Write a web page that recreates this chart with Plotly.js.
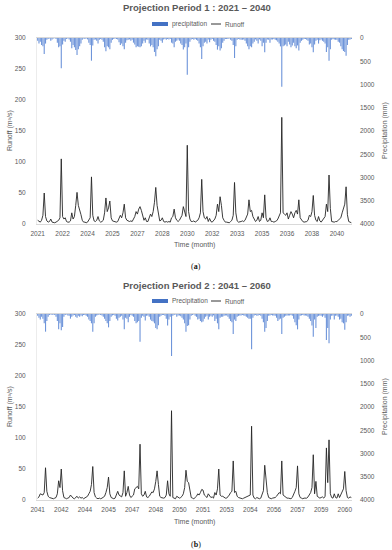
<!DOCTYPE html>
<html><head><meta charset="utf-8">
<script src="https://cdn.plot.ly/plotly-3.0.1.min.js"></script>
<style>html,body{margin:0;padding:0;background:#fff}#chart{width:392px;height:550px}</style>
</head><body><div id="chart"></div>
<script>
// ---------- Period 1 : 2021-2040 (monthly) ----------
const runoff1 = [
  6,4,3,6,14,50,12,5,3,4,8,3,
  2,2,3,4,6,10,105,12,8,10,4,3,
  3,5,18,8,12,30,51,30,20,15,6,3,
  3,2,3,6,10,76,14,5,4,6,12,5,
  3,4,6,18,42,20,26,37,10,5,4,3,
  3,4,8,14,10,18,32,10,6,5,4,5,
  4,8,12,20,16,24,28,22,12,6,10,4,
  4,10,16,12,20,35,59,30,18,5,6,10,
  4,3,4,3,4,3,10,12,24,10,6,4,
  6,10,14,28,20,12,127,20,8,4,4,5,
  3,4,6,10,18,72,20,10,8,12,4,9,
  4,3,6,8,14,32,20,44,30,10,6,3,
  3,3,2,4,6,14,67,18,5,3,3,4,
  5,4,6,10,16,39,20,22,12,8,4,6,
  12,4,6,18,10,47,10,4,5,10,4,4,
  3,4,5,8,12,18,172,18,16,14,18,8,
  14,20,16,10,18,22,16,39,10,6,4,3,
  3,4,6,14,12,20,46,14,6,4,12,5,
  3,6,8,12,32,20,79,25,4,3,3,4,
  4,6,8,10,18,26,32,60,15,4,3,2
];
const precip1 = [
  60,120,80,150,180,344,120,40,20,10,60,30,
  10,5,20,100,200,180,653,140,60,80,20,10,
  30,80,220,150,200,260,366,240,180,120,40,10,
  20,10,30,100,150,488,160,40,30,60,120,40,
  20,40,80,200,287,180,200,240,100,40,20,10,
  20,30,90,150,120,180,240,100,50,40,30,60,
  40,100,140,200,180,190,200,180,120,60,100,30,
  40,120,180,150,200,300,394,240,180,40,60,100,
  30,20,40,20,30,20,100,120,200,80,60,30,
  60,120,150,250,200,120,789,200,80,30,20,40,
  20,40,60,120,200,452,180,100,80,120,30,90,
  40,20,60,80,150,250,180,270,220,100,60,20,
  20,20,10,40,60,150,430,180,40,20,30,40,
  40,30,60,120,180,240,180,200,120,80,30,60,
  120,30,60,180,100,308,100,30,40,100,30,30,
  20,40,50,80,120,180,1047,180,160,140,180,80,
  140,200,160,100,180,220,160,270,100,60,40,20,
  20,40,60,140,120,200,308,140,60,40,120,50,
  30,60,80,120,300,200,488,240,40,20,30,40,
  40,80,100,180,240,280,300,380,150,40,30,20
];
const tickLabels1 = ['2021','2022','2024','2025','2027','2028','2030','2032','2033','2035','2036','2038','2040'];

// ---------- Period 2 : 2041-2060 (monthly) ----------
const runoff2 = [
  3,5,10,9,8,12,52,14,6,4,3,3,
  2,3,4,10,31,20,50,15,4,3,2,3,
  4,8,5,3,2,4,6,3,5,3,4,2,
  3,4,6,10,14,25,54,12,5,3,2,3,
  2,3,4,6,12,20,37,10,4,3,2,3,
  10,14,8,6,5,12,47,6,12,22,8,4,
  6,8,18,20,22,18,90,10,6,8,14,5,
  4,6,10,13,12,18,30,47,25,6,4,3,
  3,4,8,31,10,6,144,4,3,2,6,4,
  3,4,6,10,20,48,30,28,12,4,3,2,
  4,6,10,8,12,17,16,8,6,4,10,6,
  4,5,3,12,8,18,50,8,6,6,4,3,
  3,5,8,12,14,63,12,14,6,4,3,3,
  2,3,4,5,6,8,8,119,8,3,2,4,
  3,2,3,8,15,56,30,12,4,3,2,3,
  3,4,6,10,12,10,63,8,6,4,3,3,
  3,2,4,8,14,20,55,10,4,3,2,3,
  3,3,5,8,12,20,73,10,30,6,4,3,
  4,5,3,6,84,28,97,10,4,3,10,4,
  3,10,4,8,14,18,46,15,4,3,5,4
];
const precip2 = [
  40,80,120,60,100,200,380,150,60,20,10,20,
  10,20,60,150,330,200,350,280,60,20,10,30,
  40,100,60,30,20,60,80,40,60,30,50,20,
  20,40,60,120,150,200,380,200,60,30,20,10,
  20,30,60,100,150,200,287,150,60,30,20,40,
  100,140,80,60,40,120,330,80,100,180,60,20,
  40,60,150,200,180,150,595,80,40,60,140,40,
  30,60,120,150,160,200,300,330,240,60,40,20,
  20,40,100,250,120,60,903,40,20,10,60,30,
  30,50,80,120,200,380,260,240,120,40,20,10,
  40,60,120,100,150,180,160,100,60,40,120,60,
  40,60,30,150,100,200,330,80,60,60,40,30,
  30,60,100,150,180,430,120,150,60,40,30,30,
  20,30,40,60,80,100,100,760,80,30,20,40,
  30,20,40,100,180,380,300,150,40,30,20,30,
  30,40,80,150,120,100,430,80,60,40,30,30,
  30,20,40,100,180,240,330,120,40,30,20,30,
  30,40,60,100,150,250,487,120,300,60,40,30,
  40,60,30,80,560,300,631,120,40,30,120,40,
  30,60,120,100,180,200,340,180,40,30,60,40
];
const tickLabels2 = ['2041','2042','2044','2045','2047','2048','2050','2051','2053','2054','2056','2057','2059','2060'];

// month category names
function monthNames(startYear){
  const out=[];
  for(let y=0;y<20;y++) for(let m=1;m<=12;m++) out.push((startYear+y)+'-'+String(m).padStart(2,'0'));
  return out;
}
const months1 = monthNames(2021);
const months2 = monthNames(2041);
const tickVals1 = tickLabels1.map((_,k)=>months1[k*19]);
const tickVals2 = tickLabels2.map((_,k)=>months2[k*18]);

const W=392,H=550;
const px=x=>x/W, py=y=>1-y/H;
const GRAY='#595959', LINE='#d9d9d9', BLUE='#4472C4', BARC='#6f95da';
const tickFont={family:'Liberation Sans, Arial, sans-serif',size:6.5,color:GRAY};

const plotL=37, plotR=352;
const top1=38, bot1=224, top2=314, bot2=500;

const data=[
  {type:'bar',x:months1,y:precip1,xaxis:'x',yaxis:'y',marker:{color:BARC,line:{width:0}},name:'precipitation',showlegend:false},
  {type:'scatter',mode:'lines',x:months1,y:runoff1,xaxis:'x',yaxis:'y2',line:{color:'#262626',width:0.9},name:'Runoff',showlegend:false},
  {type:'bar',x:months2,y:precip2,xaxis:'x2',yaxis:'y3',marker:{color:BARC,line:{width:0}},name:'Precipitation',showlegend:false},
  {type:'scatter',mode:'lines',x:months2,y:runoff2,xaxis:'x2',yaxis:'y4',line:{color:'#262626',width:0.9},name:'Runoff',showlegend:false}
];

function xax(anchor,vals,labels){
  return {domain:[px(plotL),px(plotR)],anchor:anchor,type:'category',range:[-0.5,239.5],
    tickmode:'array',tickvals:vals,ticktext:labels,tickangle:0,ticks:'',showgrid:false,zeroline:false,
    showline:true,linecolor:LINE,linewidth:1,mirror:true,tickfont:tickFont,ticklabelstandoff:3,fixedrange:true};
}
function yPrecip(top,bot,anchor){
  return {domain:[py(bot),py(top)],anchor:anchor,side:'right',range:[4000,0],tickmode:'linear',tick0:0,dtick:500,
    showgrid:false,zeroline:false,showline:false,ticks:'',tickfont:tickFont,ticklabelstandoff:7,fixedrange:true};
}
function yRunoff(overlay,anchor){
  return {overlaying:overlay,anchor:anchor,side:'left',range:[0,300],tickmode:'linear',tick0:0,dtick:50,
    showgrid:false,zeroline:false,showline:true,linecolor:'#ececec',ticks:'',tickfont:tickFont,ticklabelstandoff:9,fixedrange:true};
}

const annFont={family:'Liberation Sans, Arial, sans-serif',size:7,color:GRAY};
const legFont={family:'Liberation Sans, Arial, sans-serif',size:6.5,color:GRAY};
function ann(text,x,y,opts){
  return Object.assign({text:text,x:px(x),y:py(y),xref:'paper',yref:'paper',showarrow:false,xanchor:'center',yanchor:'middle',font:annFont},opts||{});
}
const titleFont={family:'Liberation Sans, Arial, sans-serif',size:9.5,color:GRAY};
const capFont={family:'Liberation Serif, serif',size:8,color:'#111'};
const annotations=[
  ann('<b>Projection Period 1 : 2021 – 2040</b>',197,8,{font:titleFont}),
  ann('precipitation',170,24,{xanchor:'left',font:legFont}),
  ann('Runoff',223,24,{xanchor:'left',font:legFont}),
  ann('Time (month)',194,245),
  ann('Runoff (m³/s)',10,131,{textangle:-90}),
  ann('Precipitation (mm)',385,131,{textangle:-90}),
  ann('(<b>a</b>)',196,266,{font:capFont}),
  ann('<b>Projection Period 2 : 2041 – 2060</b>',197,285,{font:titleFont}),
  ann('Precipitation',170,301,{xanchor:'left',font:legFont}),
  ann('Runoff',223,301,{xanchor:'left',font:legFont}),
  ann('Time (month)',194,522),
  ann('Runoff (m³/s)',10,407,{textangle:-90}),
  ann('Precipitation (mm)',385,407,{textangle:-90}),
  ann('(<b>b</b>)',196,544,{font:capFont})
];
const shapes=[
  {type:'rect',xref:'paper',yref:'paper',x0:px(152),x1:px(168),y0:py(26),y1:py(22),fillcolor:BLUE,line:{width:0}},
  {type:'line',xref:'paper',yref:'paper',x0:px(211),x1:px(221),y0:py(24),y1:py(24),line:{color:'#333',width:1}},
  {type:'rect',xref:'paper',yref:'paper',x0:px(152),x1:px(168),y0:py(303),y1:py(299),fillcolor:BLUE,line:{width:0}},
  {type:'line',xref:'paper',yref:'paper',x0:px(211),x1:px(221),y0:py(301),y1:py(301),line:{color:'#333',width:1}}
];

const layout={
  width:W,height:H,margin:{l:0,r:0,t:0,b:0},paper_bgcolor:'#fff',plot_bgcolor:'#fff',
  showlegend:false,bargap:0.15,
  font:{family:'Liberation Sans, Arial, sans-serif',color:GRAY},
  xaxis:xax('y',tickVals1,tickLabels1),
  yaxis:yPrecip(top1,bot1,'x'),
  yaxis2:yRunoff('y','x'),
  xaxis2:xax('y3',tickVals2,tickLabels2),
  yaxis3:yPrecip(top2,bot2,'x2'),
  yaxis4:yRunoff('y3','x2'),
  annotations:annotations,shapes:shapes
};
Plotly.newPlot('chart',data,layout,{displayModeBar:false,staticPlot:true});
</script></body></html>
